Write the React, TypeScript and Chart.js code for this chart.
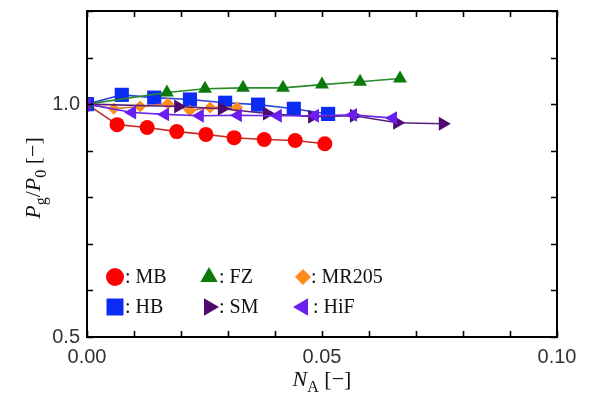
import React, { useEffect, useRef } from 'react';
import { Chart, registerables } from 'chart.js';
import { drawPoint } from 'chart.js/helpers';

Chart.register(...registerables);

// ---- data ----
const mbX = [0, 0.0064, 0.0128, 0.0191, 0.0253, 0.0313, 0.0377, 0.0443, 0.0506];
const mbY = [1.0, 0.956, 0.950, 0.941, 0.935, 0.928, 0.924, 0.922, 0.915];

const fzX = [0, 0.0170, 0.0251, 0.0332, 0.0417, 0.0500, 0.0581, 0.0666];
const fzY = [1.0, 1.025, 1.033, 1.035, 1.035, 1.042, 1.048, 1.055];

const mrX = [0, 0.0057, 0.0113, 0.0172, 0.0219, 0.0262, 0.0319];
const mrY = [1.0, 0.990, 0.995, 1.001, 0.986, 0.993, 0.993];

const hbX = [0, 0.0074, 0.0143, 0.0219, 0.0294, 0.0364, 0.0440, 0.0513];
const hbY = [1.0, 1.020, 1.014, 1.010, 1.003, 0.999, 0.990, 0.979];

const smX = [0, 0.0194, 0.0287, 0.0383, 0.0479, 0.0568, 0.0660, 0.0757];
const smY = [1.0, 0.995, 0.990, 0.980, 0.973, 0.975, 0.960, 0.958];

const hifX = [0, 0.0096, 0.0166, 0.0240, 0.0321, 0.0406, 0.0485, 0.0566, 0.0651];
const hifY = [1.0, 0.982, 0.978, 0.975, 0.976, 0.975, 0.975, 0.977, 0.970];

const xTickLabels = ['0.00', '0.05', '0.10'];
const yTickLabels = ['0.5', '1.0'];

const SERIF = '"Liberation Serif", "Times New Roman", serif';
const SANS = '"Liberation Sans", Arial, sans-serif';

type Series = {
  label: string;
  xs: number[];
  ys: number[];
  color: string;
  line: string;
  style: string;
  radius: number;
  rotation: number;
  legendRadius: number;
};

const series: Series[] = [
  { label: 'HiF', xs: hifX, ys: hifY, color: '#6A1EF0', line: '#6A2AE8', style: 'triangle', radius: 8, rotation: -90, legendRadius: 10 },
  { label: 'SM', xs: smX, ys: smY, color: '#4E0A6E', line: '#5A2078', style: 'triangle', radius: 8, rotation: 90, legendRadius: 10 },
  { label: 'MR205', xs: mrX, ys: mrY, color: '#FF8C1A', line: '#D8743A', style: 'rectRot', radius: 6, rotation: 0, legendRadius: 8 },
  { label: 'FZ', xs: fzX, ys: fzY, color: '#0A7A0A', line: '#2A8A2A', style: 'triangle', radius: 8, rotation: 0, legendRadius: 10 },
  { label: 'HB', xs: hbX, ys: hbY, color: '#0A2CF5', line: '#2A44E0', style: 'rect', radius: 10, rotation: 0, legendRadius: 12 },
  { label: 'MB', xs: mbX, ys: mbY, color: '#FF0000', line: '#C0302A', style: 'circle', radius: 7.5, rotation: 0, legendRadius: 9 },
];

const legendRows = [['MB', 'FZ', 'MR205'], ['HB', 'SM', 'HiF']];

type Part = { t: string; italic?: boolean; sub?: boolean };

function drawRich(ctx: CanvasRenderingContext2D, parts: Part[], x: number, y: number, size: number) {
  const fontFor = (p: Part) => `${p.italic ? 'italic ' : ''}${p.sub ? Math.round(size * 0.72) : size}px ${SERIF}`;
  let total = 0;
  parts.forEach((p) => {
    ctx.font = fontFor(p);
    total += ctx.measureText(p.t).width;
  });
  let cx = x - total / 2;
  ctx.textAlign = 'left';
  ctx.textBaseline = 'alphabetic';
  parts.forEach((p) => {
    ctx.font = fontFor(p);
    ctx.fillText(p.t, cx, y + (p.sub ? size * 0.25 : 0));
    cx += ctx.measureText(p.t).width;
  });
}

const framePlugin = {
  id: 'frame',
  afterDraw(chart: any) {
    const ctx: CanvasRenderingContext2D = chart.ctx;
    const { left, right, top, bottom } = chart.chartArea;
    const xs = chart.scales.x;
    const ys = chart.scales.y;
    ctx.save();
    ctx.strokeStyle = '#000';
    ctx.lineWidth = 1.6;
    const tl = 6;
    ctx.beginPath();
    xs.ticks.forEach((t: any) => {
      const px = Math.round(xs.getPixelForValue(t.value)) + 0.5;
      ctx.moveTo(px, bottom);
      ctx.lineTo(px, bottom - tl);
      ctx.moveTo(px, top);
      ctx.lineTo(px, top + tl);
    });
    ys.ticks.forEach((t: any) => {
      const py = Math.round(ys.getPixelForValue(t.value)) + 0.5;
      ctx.moveTo(left, py);
      ctx.lineTo(left + tl, py);
      ctx.moveTo(right, py);
      ctx.lineTo(right - tl, py);
    });
    ctx.stroke();
    ctx.lineWidth = 2;
    ctx.strokeRect(left, top, right - left, bottom - top);

    // axis titles
    ctx.fillStyle = '#111';
    drawRich(ctx, [{ t: 'N', italic: true }, { t: 'A', sub: true }, { t: ' [\u2212]' }], (left + right) / 2, 386, 22);
    ctx.save();
    ctx.translate(40, (top + bottom) / 2 + 4);
    ctx.rotate(-Math.PI / 2);
    drawRich(
      ctx,
      [{ t: 'P', italic: true }, { t: 'g', sub: true }, { t: '/' }, { t: 'P', italic: true }, { t: '0', sub: true }, { t: ' [\u2212]' }],
      0,
      0,
      22
    );
    ctx.restore();

    // legend
    const colX = [left + 28, left + 122, left + 216];
    const rowY = [bottom - 60, bottom - 30];
    ctx.font = `20px ${SERIF}`;
    ctx.textBaseline = 'middle';
    ctx.textAlign = 'left';
    legendRows.forEach((row, ri) => {
      row.forEach((name, ci) => {
        const s = series.find((d) => d.label === name)!;
        const x = colX[ci];
        const y = rowY[ri];
        ctx.fillStyle = s.color;
        drawPoint(ctx, { pointStyle: s.style, radius: s.legendRadius, rotation: s.rotation, borderWidth: 0 } as any, x, y);
        ctx.fillStyle = '#111';
        ctx.font = `20px ${SERIF}`;
        ctx.fillText(': ' + name, x + (s.style === 'rectRot' ? 8 : 10), y + 1);
      });
    });
    ctx.restore();
  },
};

export default function App() {
  const ref = useRef<HTMLCanvasElement | null>(null);
  useEffect(() => {
    if (!ref.current) return;
    const chart = new Chart(ref.current, {
      type: 'scatter',
      data: {
        datasets: series.map((s) => ({
          label: s.label,
          data: s.xs.map((x, i) => ({ x, y: s.ys[i] })),
          showLine: true,
          borderColor: s.line,
          borderWidth: 1.6,
          backgroundColor: s.color,
          pointBackgroundColor: s.color,
          pointBorderColor: s.color,
          pointBorderWidth: 0,
          pointStyle: s.style as any,
          pointRadius: s.radius,
          pointRotation: s.rotation,
          pointHoverRadius: s.radius,
        })),
      },
      plugins: [framePlugin],
      options: {
        responsive: false,
        animation: false,
        events: [],
        layout: { padding: { top: 10, right: 36, left: 0, bottom: 0 } },
        plugins: { legend: { display: false }, tooltip: { enabled: false } },
        scales: {
          x: {
            type: 'linear',
            min: 0,
            max: 0.1,
            grid: { display: false },
            border: { display: false },
            afterFit: (scale: any) => {
              scale.height = 63;
            },
            ticks: {
              stepSize: 0.01,
              autoSkip: false,
              maxRotation: 0,
              padding: 0,
              color: '#333',
              font: { family: SANS, size: 20 },
              callback: (v: any) => {
                const k = Math.round(Number(v) * 100);
                return k % 5 === 0 ? xTickLabels[k / 5] : '';
              },
            },
          },
          y: {
            type: 'linear',
            min: 0.5,
            max: 1.2,
            grid: { display: false },
            border: { display: false },
            afterFit: (scale: any) => {
              scale.width = 87;
            },
            ticks: {
              stepSize: 0.1,
              autoSkip: false,
              padding: -1,
              color: '#333',
              font: { family: SANS, size: 20 },
              callback: (v: any) => {
                const k = Math.round(Number(v) * 10);
                if (k === 5) return yTickLabels[0];
                if (k === 10) return yTickLabels[1];
                return '';
              },
            },
          },
        },
      },
    });
    return () => chart.destroy();
  }, []);
  return (
    <div style={{ position: 'absolute', left: 0, top: 0, width: 593, height: 400, background: '#fff' }}>
      <canvas ref={ref} width={593} height={400} style={{ width: 593, height: 400, display: 'block' }} />
    </div>
  );
}
